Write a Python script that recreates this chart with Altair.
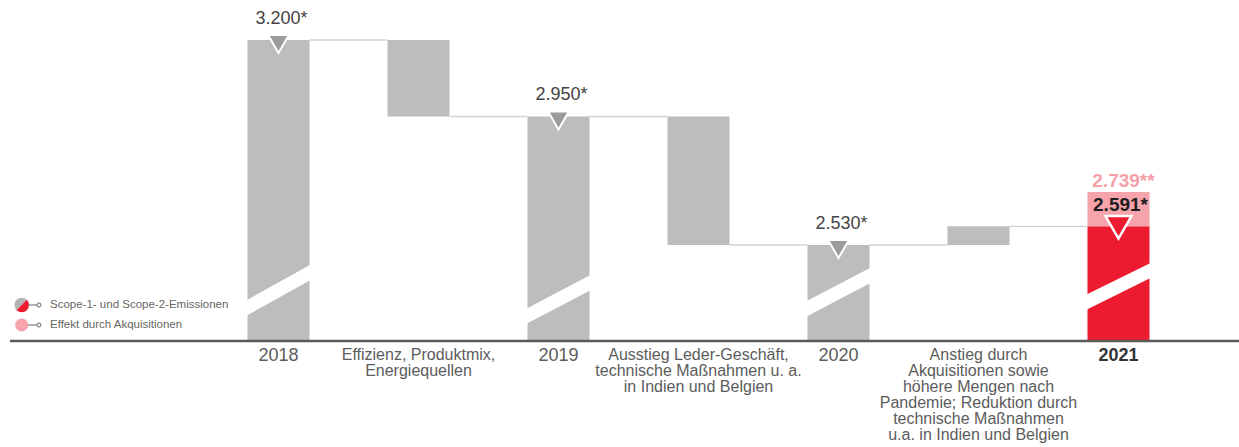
import altair as alt
import pandas as pd

# ---------------- data ----------------
categories = [
    "2018",
    "Effizienz, Produktmix,|Energiequellen",
    "2019",
    "Ausstieg Leder-Geschäft,|technische Maßnahmen u. a.|in Indien und Belgien",
    "2020",
    "Anstieg durch|Akquisitionen sowie|höhere Mengen nach|Pandemie; Reduktion durch|technische Maßnahmen|u.a. in Indien und Belgien",
    "2021",
]
year_cats = ["2018", "2019", "2020", "2021"]
totals = [3200, 2950, 2530, 2591]
total_labels = ["3.200*", "2.950*", "2.530*", "2.591*"]
acq_value_drawn = 2703          # top of the pink block as drawn
acq_label = "2.739**"
axis_floor = 2216.2             # value at the (broken) baseline
axis_top = 3330.7
break_left = [2326, 2299, 2323, 2345]    # axis-break stripe, left end
break_right = [2439, 2405, 2429, 2445]   # axis-break stripe, right end
legend_labels = ["Scope-1- und Scope-2-Emissionen", "Effekt durch Akquisitionen"]

GRAY = "#bdbdbd"
DARK_GRAY = "#9c9c9c"
RED = "#ed1b2f"
PINK = "#f6a3ab"
FONT = "Liberation Sans"

# ---------------- tables ----------------
bar_rows = []
for i, cat in enumerate(categories):
    k = i // 2
    if i % 2 == 0:
        bar_rows.append({"cat": cat, "y": axis_floor, "y2": totals[k],
                         "fill": RED if cat == "2021" else GRAY})
    else:
        bar_rows.append({"cat": cat, "y": totals[k], "y2": totals[k + 1], "fill": GRAY})
bar_rows.append({"cat": "2021", "y": totals[3], "y2": acq_value_drawn, "fill": PINK})
bars_df = pd.DataFrame(bar_rows)

conn_rows = []
for i in range(len(categories) - 1):
    level = totals[i // 2] if i % 2 == 0 else totals[i // 2 + 1]
    conn_rows.append({"from": categories[i], "to": categories[i + 1], "level": level})
conn_df = pd.DataFrame(conn_rows)

stripe_df = pd.DataFrame({"cat": year_cats, "yl": break_left, "yr": break_right})
tot_df = pd.DataFrame({"cat": year_cats, "value": totals, "label": total_labels})
acq_df = pd.DataFrame({"cat": ["2021"], "value": [acq_value_drawn], "label": [acq_label]})
base_df = pd.DataFrame({"level": [axis_floor]})

# ---------------- scales ----------------
xscale = alt.Scale(domain=categories, range=[198.5, 1178.5], paddingInner=0.557, paddingOuter=0.2785)
yscale = alt.Scale(domain=[axis_floor, axis_top], nice=False, zero=False)

x_axis = alt.Axis(
    title=None, labelExpr="split(datum.label, '|')", labelAngle=0, ticks=False,
    grid=False, domain=False, labelPadding=5,
    labelBaseline="top", labelLineHeight=16, labelLimit=0, labelFont=FONT,
    labelFontSize={"condition": {"test": "length(datum.value) == 4", "value": 18}, "value": 16},
    labelFontWeight={"condition": {"test": "datum.value == '2021'", "value": "bold"}, "value": "normal"},
    labelColor={"condition": {"test": "datum.value == '2021'", "value": "#333333"}, "value": "#5c5c5c"},
)


def X(field, **kw):
    return alt.X(field, scale=xscale, axis=x_axis, **kw)


bars = alt.Chart(bars_df).mark_bar().encode(
    x=X("cat:N"),
    y=alt.Y("y:Q", scale=yscale, axis=None),
    y2="y2:Q",
    color=alt.Color("fill:N", scale=None),
)

connectors = alt.Chart(conn_df).mark_rule(color="#d2d2d2", strokeWidth=1.3).encode(
    x=X("from:N", bandPosition=1),
    x2=alt.X2("to:N", bandPosition=0),
    y=alt.Y("level:Q", scale=yscale, axis=None),
)

stripes = alt.Chart(stripe_df).mark_rule(color="white", strokeWidth=13.5, strokeCap="square").encode(
    x=X("cat:N", bandPosition=0),
    x2=alt.X2("cat:N", bandPosition=1),
    y=alt.Y("yl:Q", scale=yscale, axis=None),
    y2="yr:Q",
)

baseline = alt.Chart(base_df).mark_rule(color="#5a5a5a", strokeWidth=2.5).encode(
    x=alt.value(0), x2=alt.value(1229),
    y=alt.Y("level:Q", scale=yscale, axis=None),
)

tri_gray = alt.Chart(tot_df[tot_df.cat != "2021"]).mark_point(
    shape="triangle-down", filled=True, fill=DARK_GRAY, stroke="white",
    strokeWidth=2, size=430, opacity=1, yOffset=4,
).encode(
    x=X("cat:N"),
    y=alt.Y("value:Q", scale=yscale, axis=None),
)

tri_red = alt.Chart(tot_df[tot_df.cat == "2021"]).mark_point(
    shape="triangle-down", filled=True, fill=RED, stroke="white",
    strokeWidth=2.5, size=680, opacity=1, yOffset=1,
).encode(
    x=X("cat:N"),
    y=alt.Y("value:Q", scale=yscale, axis=None),
)

lbl_gray = alt.Chart(tot_df[tot_df.cat != "2021"]).mark_text(
    font=FONT, fontSize=18, color="#444444", baseline="alphabetic", dy=-16, dx=3,
).encode(
    x=X("cat:N"),
    y=alt.Y("value:Q", scale=yscale, axis=None),
    text="label:N",
)

lbl_2021 = alt.Chart(tot_df[tot_df.cat == "2021"]).mark_text(
    font=FONT, fontSize=19, fontWeight="bold", color="#1e1e1e", baseline="alphabetic", dy=-15, dx=2,
).encode(
    x=X("cat:N"),
    y=alt.Y("value:Q", scale=yscale, axis=None),
    text="label:N",
)

lbl_acq = alt.Chart(acq_df).mark_text(
    font=FONT, fontSize=19, fontWeight="bold", color="#f5a0a8", baseline="alphabetic", dy=-5, dx=5,
).encode(
    x=X("cat:N"),
    y=alt.Y("value:Q", scale=yscale, axis=None),
    text="label:N",
)

# ---------------- legend (drawn by hand) ----------------
legend_layers = []
row_y = [305, 325]
for r, text in enumerate(legend_labels):
    yv = row_y[r]
    if r == 0:
        legend_layers.append(alt.Chart(pd.DataFrame({"a": [0]})).mark_arc(
            theta=3.927, theta2=7.069, radius=7.3, color="#b5b5b5").encode(
            x=alt.value(11.7), y=alt.value(yv)))
        legend_layers.append(alt.Chart(pd.DataFrame({"a": [0]})).mark_arc(
            theta=0.785, theta2=3.927, radius=7.3, color=RED).encode(
            x=alt.value(11.7), y=alt.value(yv)))
    else:
        legend_layers.append(alt.Chart(pd.DataFrame({"a": [0]})).mark_point(
            shape="circle", filled=True, color="#f7a5ad", size=170, opacity=1).encode(
            x=alt.value(11.7), y=alt.value(yv)))
    legend_layers.append(alt.Chart(pd.DataFrame({"a": [0]})).mark_rule(
        color="#666666", strokeWidth=1).encode(
        x=alt.value(18), x2=alt.value(27), y=alt.value(yv)))
    legend_layers.append(alt.Chart(pd.DataFrame({"a": [0]})).mark_point(
        shape="circle", filled=True, fill="white", stroke="#666666", strokeWidth=1,
        size=16, opacity=1).encode(
        x=alt.value(29), y=alt.value(yv)))
    legend_layers.append(alt.Chart(pd.DataFrame({"t": [text]})).mark_text(
        font=FONT, fontSize=11.5, color="#666666", align="left", baseline="middle").encode(
        x=alt.value(40), y=alt.value(yv), text="t:N"))

chart = alt.layer(
    bars, connectors, stripes, baseline, tri_gray, tri_red, lbl_gray, lbl_2021, lbl_acq, *legend_layers
).properties(
    width=1229, height=341,
    padding={"left": 10, "top": 0, "right": 0, "bottom": 106},
    autosize=alt.AutoSizeParams(type="none"),
).configure_view(stroke=None)

chart.save("out.html", embed_options={"renderer": "svg", "actions": False})
